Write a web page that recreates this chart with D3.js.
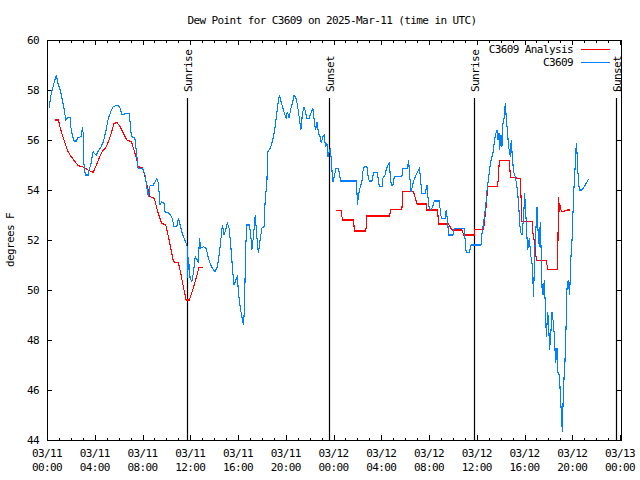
<!DOCTYPE html>
<html><head><meta charset="utf-8">
<script src="https://cdn.jsdelivr.net/npm/d3@7"></script>
<style>
html,body{margin:0;padding:0;background:#fff;}
svg{display:block;}
text{font-family:"DejaVu Sans Mono",monospace;font-size:11px;letter-spacing:-0.6px;fill:#000;}
</style></head><body><svg id="c" width="640" height="480"></svg>
<script>
// ---- data (hours since 2025-03-11 00:00 UTC) ----
const titleText = "Dew Point for C3609 on 2025-Mar-11 (time in UTC)";
const yLabel = "degrees F";
const seriesNames = ["C3609 Analysis", "C3609"];
const yTicks = [44,46,48,50,52,54,56,58,60];
const sunEventNames = ["Sunrise","Sunset","Sunrise","Sunset"];
const sunEventHours = [11.73, 23.64, 35.80, 47.66];

const obsHours = [0.17,0.36,0.53,0.78,0.92,1.15,1.28,1.42,1.57,1.70,1.93,1.99,2.12,2.26,2.46,2.60,2.88,2.96,3.04,3.10,
3.21,3.46,3.52,3.66,3.86,3.94,4.13,4.27,4.50,4.72,4.92,5.14,5.34,5.53,5.76,5.95,6.12,6.26,6.45,6.60,
6.87,6.96,7.07,7.35,7.52,7.63,8.02,8.21,8.36,8.49,8.63,8.91,9.20,9.33,9.47,9.61,9.81,9.85,10.17,10.45,
10.65,10.87,11.01,11.15,11.29,11.48,11.65,11.76,11.79,11.84,11.99,12.13,12.26,12.41,12.60,12.68,12.77,12.88,13.10,13.33,
13.52,13.72,13.94,14.08,14.27,14.44,14.56,14.69,14.84,15.00,15.11,15.26,15.40,15.57,15.67,15.82,15.95,16.04,16.18,16.32,
16.45,16.54,16.60,16.66,16.74,16.96,17.07,17.16,17.29,17.44,17.58,17.71,17.85,18.00,18.19,18.27,18.42,18.50,18.69,18.84,
18.97,19.11,19.25,19.39,19.47,19.61,19.76,19.89,20.03,20.14,20.28,20.43,20.56,20.70,20.85,20.98,21.12,21.27,21.40,21.54,
21.68,21.77,21.96,22.10,22.27,22.38,22.49,22.63,22.74,22.88,22.97,23.11,23.22,23.33,23.45,23.53,23.64,23.72,23.81,23.89,
23.95,24.06,24.22,24.42,24.50,24.62,25.90,25.96,26.01,26.09,26.24,26.38,26.46,26.57,26.80,26.88,26.99,27.22,27.35,27.69,
27.77,27.85,28.06,28.14,28.33,28.42,28.56,28.69,28.75,28.84,28.98,29.09,29.73,29.82,30.20,30.29,30.37,30.49,30.60,30.70,
30.85,31.04,31.21,31.32,31.41,31.68,31.83,31.91,32.02,32.16,32.30,32.44,32.86,32.94,33.03,33.36,33.44,33.55,33.64,34.01,
34.12,34.95,35.04,35.12,35.37,35.52,36.35,36.44,36.57,36.66,36.77,36.86,36.99,37.07,37.22,37.33,37.41,37.49,37.61,37.70,
37.78,37.86,37.91,38.03,38.11,38.20,38.31,38.39,38.47,38.58,38.67,38.81,38.89,39.00,39.09,39.23,39.37,39.51,39.59,39.71,
39.79,39.93,40.01,40.15,40.26,40.40,40.54,40.63,40.71,40.76,40.85,41.05,41.13,41.24,41.32,41.41,41.47,41.55,41.66,41.74,
41.83,41.94,42.02,42.10,42.19,42.30,42.39,42.50,42.61,42.72,42.81,42.92,43.00,43.08,43.17,43.23,43.31,43.39,43.50,43.56,
43.67,43.78,43.90,43.98,44.12,44.26,44.34,44.40,44.48,44.59,44.82,45.01,45.24,45.37];
const obsDew = [57.29,57.87,58.17,58.6,58.27,57.93,57.6,57.28,56.8,56.88,56.9,56.53,56.2,55.96,55.96,56.1,56.13,56.53,56.24,55.0,
54.6,54.6,54.8,55.0,55.53,55.47,55.4,55.53,55.7,55.93,56.33,56.87,57.13,57.33,57.37,57.4,57.27,57.03,57.03,57.07,
57.07,56.73,56.13,56.1,55.4,54.87,54.85,54.6,54.13,53.73,54.16,54.2,54.47,54.27,53.4,53.53,53.47,53.13,53.09,52.93,
52.53,52.53,52.87,52.6,52.33,52.07,51.87,51.73,50.47,51.33,50.47,50.33,50.67,51.33,51.2,51.07,52.07,51.67,51.73,51.67,
51.27,51.0,50.8,50.73,50.93,51.47,52.0,52.6,52.2,52.47,52.67,52.47,51.73,50.67,50.2,50.4,50.53,49.87,49.33,48.93,
48.6,49.2,50.67,51.87,52.6,52.6,52.2,51.6,52.13,53.0,52.13,51.47,52.0,52.47,52.53,53.53,54.33,55.53,55.67,55.87,
56.13,56.53,57.07,57.6,57.8,57.53,57.27,57.07,56.87,57.13,56.87,57.27,57.47,57.8,57.67,57.4,56.93,56.4,57.07,57.33,
57.07,56.87,56.87,57.07,57.27,56.8,56.4,56.73,56.27,56.13,55.87,56.13,56.2,55.73,55.87,55.33,55.53,55.67,55.27,54.67,
54.33,54.53,54.87,54.87,54.6,54.36,54.36,53.93,53.4,53.8,54.13,54.33,54.73,54.93,54.93,54.6,54.36,54.36,54.69,54.69,
54.33,54.13,54.13,54.47,54.6,54.83,55.0,55.13,54.6,54.2,54.2,54.53,54.53,54.87,54.87,55.2,54.67,53.93,54.13,54.33,
54.53,54.73,54.87,54.27,53.87,53.87,54.2,53.73,53.27,53.2,53.31,53.56,53.56,53.2,52.87,52.87,53.2,52.8,52.2,52.2,
52.47,52.47,51.93,51.49,51.49,51.8,51.8,52.27,52.67,53.0,53.47,54.0,54.47,54.8,55.27,55.4,55.67,56.0,56.27,56.4,
56.0,56.27,55.6,56.2,55.73,56.67,56.93,57.47,56.93,56.27,55.73,55.33,56.0,55.2,54.73,54.53,54.13,53.47,52.67,52.27,
52.2,52.93,53.87,52.67,51.6,52.07,51.33,51.07,50.33,49.73,51.47,53.33,52.4,51.73,52.73,51.33,50.07,49.8,50.4,49.4,
48.13,49.13,48.67,47.6,48.13,49.13,48.8,48.2,47.07,47.67,46.67,46.6,45.87,45.13,44.33,45.47,46.47,47.13,48.8,50.07,
50.4,49.8,51.4,52.0,53.87,55.07,55.87,55.47,54.67,54.0,54.0,54.13,54.33,54.43];

const anaHours = [0.67,0.95,1.09,1.28,1.48,1.70,1.93,2.18,2.41,2.62,2.96,3.33,3.60,3.86,4.08,4.36,4.64,4.92,5.20,5.42,
5.62,5.89,6.12,6.40,6.68,7.07,7.29,7.52,7.63,8.00,8.21,8.41,8.63,8.99,9.20,9.41,9.61,9.95,10.17,10.37,
10.59,11.01,11.23,11.48,11.65,11.93,12.21,12.49,12.74,13.08,18.00,
24.22,24.64,24.75,25.67,25.76,26.71,26.80,28.69,28.81,29.73,29.82,30.70,30.99,31.77,31.83,32.72,32.80,33.64,33.92,34.76,
34.90,35.79,35.85,36.57,36.63,36.71,36.80,36.91,37.75,37.83,37.89,38.75,38.81,39.51,39.65,39.79,40.63,40.71,40.85,41.00,
41.83,41.94,42.78,42.81,42.86,42.92,43.00,43.08,43.36,43.56,43.84];
const anaDew = [56.8,56.8,56.53,56.2,55.93,55.6,55.4,55.24,55.09,54.97,54.93,54.83,54.76,54.71,54.93,55.27,55.56,55.69,56.0,56.33,
56.67,56.69,56.53,56.27,56.0,55.93,55.6,55.24,54.93,54.9,54.53,54.13,53.73,53.67,53.27,52.93,52.67,52.6,52.13,51.67,
51.13,51.09,50.6,50.0,49.6,49.6,50.0,50.47,50.91,50.91,null,
53.17,53.17,52.8,52.8,52.36,52.36,52.96,52.96,53.23,53.23,53.93,53.93,53.44,53.44,53.2,53.2,52.64,52.64,52.4,52.4,
52.2,52.2,52.43,52.43,52.67,53.0,53.4,54.13,54.13,54.67,55.17,55.17,54.51,54.47,54.47,52.73,52.73,52.27,51.87,51.17,
51.17,50.83,50.83,52.27,53.73,53.13,53.4,53.13,53.16,53.2,53.2];

// ---- drawing ----
const L=47, R=620, T=40, B=440;
const t0 = Date.UTC(2025,2,11,0,0);
const toDate = h => new Date(t0 + h*3600000);
const svg = d3.select('#c');
svg.append('rect').attr('width',640).attr('height',480).attr('fill','#fff');

const x = d3.scaleUtc().domain([toDate(0), toDate(48)]).range([L, R]);
const y = d3.scaleLinear().domain([44, 60]).range([B, T]);

const majorT = d3.utcHour.every(4).range(toDate(0), toDate(48.01));
const minorT = d3.utcHour.range(toDate(0), toDate(48.01));

function styleAxis(g){ g.select('.domain').remove(); g.selectAll('line').attr('stroke','#000').attr('shape-rendering','crispEdges'); g.selectAll('text').remove(); }

svg.append('g').attr('transform',`translate(0,${B})`).call(d3.axisBottom(x).tickValues(minorT).tickSize(-2.5)).call(styleAxis);
svg.append('g').attr('transform',`translate(0,${B})`).call(d3.axisBottom(x).tickValues(majorT).tickSize(-5)).call(styleAxis);
svg.append('g').attr('transform',`translate(0,${T})`).call(d3.axisTop(x).tickValues(minorT).tickSize(-2.5)).call(styleAxis);
svg.append('g').attr('transform',`translate(0,${T})`).call(d3.axisTop(x).tickValues(majorT).tickSize(-5)).call(styleAxis);
svg.append('g').attr('transform',`translate(${R+1},0)`).call(d3.axisRight(y).tickValues(yTicks).tickSize(-5)).call(styleAxis);

const yAxis = svg.append('g').attr('transform',`translate(${L},0)`)
  .call(d3.axisLeft(y).tickValues(yTicks).tickSize(-5).tickPadding(8).tickFormat(d3.format('d')));
yAxis.select('.domain').remove();
yAxis.selectAll('line').attr('stroke','#000').attr('shape-rendering','crispEdges');
yAxis.selectAll('text').attr('font-size',null).attr('font-family',null).attr('fill','#000').attr('dy','0.35em');

// x tick labels (two lines)
const fDay = d3.utcFormat('%m/%d'), fTime = d3.utcFormat('%H:%M');
const xl = svg.append('g').selectAll('g').data(majorT).join('g')
  .attr('transform', d => `translate(${x(d)},0)`);
xl.append('text').attr('y',457).attr('text-anchor','middle').text(d => fDay(d));
xl.append('text').attr('y',471).attr('text-anchor','middle').text(d => fTime(d));

// border
svg.append('rect').attr('x',L).attr('y',T).attr('width',R+1-L).attr('height',B-T)
  .attr('fill','none').attr('stroke','#000').attr('shape-rendering','crispEdges');

// sunrise / sunset
const sun = sunEventHours.map((h,i)=>({d:toDate(h), name:sunEventNames[i]}));
svg.append('g').selectAll('line').data(sun).join('line')
  .attr('x1', d=>Math.round(x(d.d))+0.5).attr('x2', d=>Math.round(x(d.d))+0.5)
  .attr('y1', 98).attr('y2', B).attr('stroke','#000').attr('stroke-width',1.2);
svg.append('g').selectAll('text').data(sun).join('text')
  .attr('transform', d=>`translate(${Math.round(x(d.d))+1},92) rotate(-90)`)
  .attr('dy','0.35em').attr('text-anchor','start').text(d=>d.name);

// series
const obs = obsHours.map((h,i)=>({d:toDate(h), v:obsDew[i]}));
const ana = anaHours.map((h,i)=>({d:toDate(h), v:anaDew[i]}));
const line = d3.line().defined(p=>p.v!=null).x(p=>x(p.d)).y(p=>y(p.v));
svg.append('path').datum(ana).attr('d',line).attr('fill','none').attr('stroke','#ff0000').attr('stroke-width',1.1).attr('shape-rendering','crispEdges');
svg.append('path').datum(obs).attr('d',line).attr('fill','none').attr('stroke','#0080ff').attr('stroke-width',1.1).attr('shape-rendering','crispEdges');

// legend
const colors = ['#ff0000','#0080ff'];
seriesNames.forEach((n,i)=>{
  const yy = 49 + i*13;
  svg.append('text').attr('x',573).attr('y',yy).attr('dy','0.35em').attr('text-anchor','end').text(n);
  svg.append('line').attr('x1',581).attr('x2',610).attr('y1',yy+0.5).attr('y2',yy+0.5)
    .attr('stroke',colors[i]).attr('stroke-width',1).attr('shape-rendering','crispEdges');
});

// title and y label
svg.append('text').attr('x',332).attr('y',20).attr('dy','0.35em').attr('text-anchor','middle').text(titleText);
svg.append('text').attr('transform','translate(10,240) rotate(-90)').attr('dy','0.35em').attr('text-anchor','middle').text(yLabel);
</script></body></html>
